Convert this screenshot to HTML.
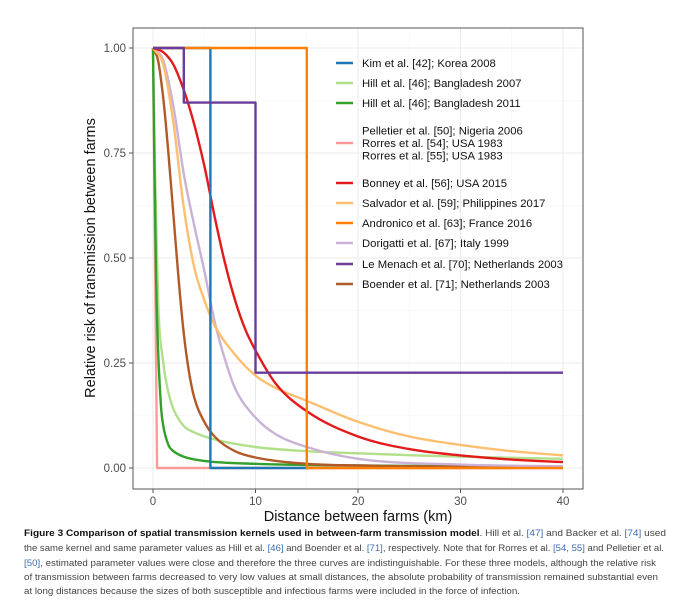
<!DOCTYPE html>
<html><head><meta charset="utf-8"><style>
html,body{margin:0;padding:0;background:#fff;}
svg{display:block;font-family:"Liberation Sans",sans-serif;}
</style></head><body>
<svg id="chart" width="681" height="607" viewBox="0 0 681 607">
<g id="grid"></g>
<g id="series"></g>
<rect x="133" y="28" width="450" height="461" fill="none" stroke="#555" stroke-width="1"/>
<g id="axes"></g>
<text x="95" y="258" transform="rotate(-90 95 258)" text-anchor="middle" font-size="14.5" fill="#111">Relative risk of transmission between farms</text>
<text x="358" y="521" text-anchor="middle" font-size="14.5" fill="#111">Distance between farms (km)</text>
<g id="legend"></g>
<g font-size="9.6" fill="#444">
<text x="24" y="536" textLength="642" lengthAdjust="spacingAndGlyphs"><tspan font-weight="bold" fill="#111">Figure 3  Comparison of spatial transmission kernels used in between-farm transmission model</tspan>. Hill et al. <tspan fill="#3a6fb0">[47]</tspan> and Backer et al. <tspan fill="#3a6fb0">[74]</tspan> used</text>
<text x="24" y="551" textLength="640" lengthAdjust="spacingAndGlyphs">the same kernel and same parameter values as Hill et al. <tspan fill="#3a6fb0">[46]</tspan> and Boender et al. <tspan fill="#3a6fb0">[71]</tspan>, respectively. Note that for Rorres et al. <tspan fill="#3a6fb0">[54, 55]</tspan> and Pelletier et al.</text>
<text x="24" y="566" textLength="632" lengthAdjust="spacingAndGlyphs"><tspan fill="#3a6fb0">[50]</tspan>, estimated parameter values were close and therefore the three curves are indistinguishable. For these three models, although the relative risk</text>
<text x="24" y="580" textLength="634" lengthAdjust="spacingAndGlyphs">of transmission between farms decreased to very low values at small distances, the absolute probability of transmission remained substantial even</text>
<text x="24" y="594" textLength="496" lengthAdjust="spacingAndGlyphs">at long distances because the sizes of both susceptible and infectious farms were included in the force of infection.</text>
</g>
</svg>
<script>
const xTicks = [0, 10, 20, 30, 40];
const yTicks = [0, 0.25, 0.5, 0.75, 1];
const yTickLabels = ["0.00", "0.25", "0.50", "0.75", "1.00"];

const kimX = [0, 5.6, 5.6, 15];
const kimY = [1, 1, 0, 0];
const hill07X = [0, 0.2, 0.5, 1, 1.5, 2, 3, 4, 6, 10, 15, 20, 30, 40];
const hill07Y = [1, 0.7, 0.4, 0.25, 0.18, 0.14, 0.1, 0.085, 0.068, 0.05, 0.04, 0.035, 0.027, 0.022];
const hill11X = [0, 0.1, 0.3, 0.5, 0.8, 1, 1.5, 2, 3, 5, 10, 20, 40];
const hill11Y = [1, 0.8, 0.45, 0.28, 0.14, 0.1, 0.055, 0.04, 0.027, 0.017, 0.01, 0.006, 0.003];
const pellX = [0, 0.4, 40];
const pellY = [1, 0, 0];
const bonneyX = [0, 1, 2, 3, 4, 5, 6, 7, 8, 9, 10, 12, 15, 20, 25, 30, 35, 40];
const bonneyY = [1, 0.99, 0.96, 0.9, 0.82, 0.72, 0.6, 0.49, 0.4, 0.33, 0.28, 0.2, 0.135, 0.075, 0.045, 0.03, 0.02, 0.014];
const salvX = [0, 1, 2, 3, 4, 5, 6, 8, 10, 12, 15, 20, 25, 30, 35, 40];
const salvY = [1, 0.96, 0.82, 0.62, 0.48, 0.4, 0.34, 0.27, 0.22, 0.19, 0.16, 0.11, 0.075, 0.055, 0.04, 0.03];
const androX = [0, 15, 15, 40];
const androY = [1, 1, 0, 0];
const doriX = [0, 1, 2, 3, 4, 5, 6, 7, 8, 10, 12, 15, 20, 30, 40];
const doriY = [1, 0.97, 0.86, 0.7, 0.58, 0.47, 0.35, 0.26, 0.19, 0.12, 0.08, 0.05, 0.022, 0.008, 0.004];
const lemX = [0, 3, 3, 10, 10, 40];
const lemY = [1, 1, 0.87, 0.87, 0.227, 0.227];
const boenX = [0, 0.5, 1, 1.5, 2, 2.5, 3, 3.5, 4, 5, 6, 8, 10, 15, 20, 40];
const boenY = [1, 0.97, 0.88, 0.75, 0.6, 0.45, 0.32, 0.23, 0.17, 0.11, 0.075, 0.04, 0.025, 0.01, 0.006, 0.002];

const seriesNames = ["kim", "hill-2007", "hill-2011", "pelletier-rorres", "bonney", "salvador", "andronico", "dorigatti", "le-menach", "boender"];
const seriesX = [kimX, hill07X, hill11X, pellX, bonneyX, salvX, androX, doriX, lemX, boenX];
const seriesY = [kimY, hill07Y, hill11Y, pellY, bonneyY, salvY, androY, doriY, lemY, boenY];
const smoothSeries = [false, true, true, false, true, true, false, true, false, true];
const colors = ["#1f78b4", "#b2df8a", "#33a02c", "#fb9a99", "#e31a1c", "#fdbf6f", "#ff7f00", "#cab2d6", "#6a3d9a", "#b15928"];
const drawOrder = [3, 1, 2, 9, 7, 5, 4, 0, 6, 8];
const legendLabels = [["Kim et al. [42]; Korea 2008"], ["Hill et al. [46]; Bangladesh 2007"], ["Hill et al. [46]; Bangladesh 2011"],
  ["Pelletier et al. [50]; Nigeria 2006", "Rorres et al. [54]; USA 1983", "Rorres et al. [55]; USA 1983"],
  ["Bonney et al. [56]; USA 2015"], ["Salvador et al. [59]; Philippines 2017"], ["Andronico et al. [63]; France 2016"],
  ["Dorigatti et al. [67]; Italy 1999"], ["Le Menach et al. [70]; Netherlands 2003"], ["Boender et al. [71]; Netherlands 2003"]];

const NS = "http://www.w3.org/2000/svg";
function sx(v) { return 153 + v * 10.25; }
function sy(v) { return 468 - v * 420; }
function mk(tag, attrs, parent) { const e = document.createElementNS(NS, tag); for (const k in attrs) e.setAttribute(k, attrs[k]); parent.appendChild(e); return e; }

function monotonePath(px, py) {
  const n = px.length;
  const d = [], m = new Array(n);
  for (let i = 0; i < n - 1; i++) d.push((py[i + 1] - py[i]) / (px[i + 1] - px[i]));
  m[0] = d[0]; m[n - 1] = d[n - 2];
  for (let i = 1; i < n - 1; i++) m[i] = (d[i - 1] * d[i] <= 0) ? 0 : (d[i - 1] + d[i]) / 2;
  for (let i = 0; i < n - 1; i++) {
    if (d[i] === 0) { m[i] = 0; m[i + 1] = 0; continue; }
    const a = m[i] / d[i], b = m[i + 1] / d[i], s = a * a + b * b;
    if (s > 9) { const t = 3 / Math.sqrt(s); m[i] = t * a * d[i]; m[i + 1] = t * b * d[i]; }
  }
  let p = "M" + px[0].toFixed(1) + "," + py[0].toFixed(1);
  for (let i = 0; i < n - 1; i++) {
    const h = (px[i + 1] - px[i]) / 3;
    p += " C" + (px[i] + h).toFixed(1) + "," + (py[i] + m[i] * h).toFixed(1) + " " +
      (px[i + 1] - h).toFixed(1) + "," + (py[i + 1] - m[i + 1] * h).toFixed(1) + " " +
      px[i + 1].toFixed(1) + "," + py[i + 1].toFixed(1);
  }
  return p;
}

const grid = document.getElementById("grid");
const axes = document.getElementById("axes");
for (let i = 0; i < xTicks.length; i++) {
  const g = mk("line", { x1: sx(xTicks[i]), x2: sx(xTicks[i]), y1: 28, y2: 489, stroke: "#ebebeb", "stroke-width": 1 }, grid);
  
  
  if (i < xTicks.length - 1) {
    const m = mk("line", { x1: sx((xTicks[i] + xTicks[i + 1]) / 2), x2: sx((xTicks[i] + xTicks[i + 1]) / 2), y1: 28, y2: 489, stroke: "#f4f4f4", "stroke-width": 0.6 }, grid);
    
    
  }
  const t = mk("line", { x1: sx(xTicks[i]), x2: sx(xTicks[i]), y1: 489, y2: 493, stroke: "#555" }, axes);
  
  
  const l = mk("text", { x: sx(xTicks[i]), y: 505, "text-anchor": "middle", "font-size": 11.5, fill: "#4d4d4d" }, axes);
  l.textContent = xTicks[i];
  
  
}
for (let i = 0; i < yTicks.length; i++) {
  const g = mk("line", { x1: 133, x2: 583, y1: sy(yTicks[i]), y2: sy(yTicks[i]), stroke: "#ebebeb", "stroke-width": 1 }, grid);
  
  
  if (i < yTicks.length - 1) {
    const m = mk("line", { x1: 133, x2: 583, y1: sy((yTicks[i] + yTicks[i + 1]) / 2), y2: sy((yTicks[i] + yTicks[i + 1]) / 2), stroke: "#f4f4f4", "stroke-width": 0.6 }, grid);
    
    
  }
  const t = mk("line", { x1: 129, x2: 133, y1: sy(yTicks[i]), y2: sy(yTicks[i]), stroke: "#555" }, axes);
  
  
  const l = mk("text", { x: 126, y: sy(yTicks[i]) + 4, "text-anchor": "end", "font-size": 11.5, fill: "#4d4d4d" }, axes);
  l.textContent = yTickLabels[i];
  
  
}

const sg = document.getElementById("series");
for (const i of drawOrder) {
  const px = seriesX[i].map(sx), py = seriesY[i].map(sy);
  let p;
  if (smoothSeries[i]) {
    p = mk("path", { d: monotonePath(px, py), fill: "none", stroke: colors[i], "stroke-width": 2.4, "stroke-linejoin": "round" }, sg);
  } else {
    const pts = px.map((x, j) => x.toFixed(1) + "," + py[j].toFixed(1)).join(" ");
    p = mk("polyline", { points: pts, fill: "none", stroke: colors[i], "stroke-width": 2.4, "stroke-linejoin": "round" }, sg);
  }
  
  
}

const lg = document.getElementById("legend");
const keyY = [63, 83, 103, 143, 183, 203, 223, 243, 264, 284];
for (let i = 0; i < legendLabels.length; i++) {
  const k = mk("line", { x1: 336, x2: 353, y1: keyY[i], y2: keyY[i], stroke: colors[i], "stroke-width": 2.4 }, lg);
  
  
  const n = legendLabels[i].length;
  legendLabels[i].forEach((s, j) => {
    const t = mk("text", { x: 362, y: keyY[i] + 4 + (j - (n - 1) / 2) * 12.5, "font-size": 11.3, fill: "#111" }, lg);
    t.textContent = s;
    
    
  });
}
</script>
</body></html>
